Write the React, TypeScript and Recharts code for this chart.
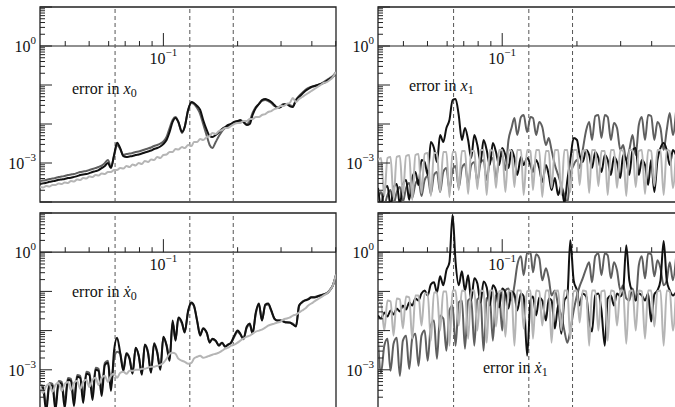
import { useMemo } from "react";
import {
  LineChart,
  Line,
  XAxis,
  YAxis,
  ReferenceLine,
  ReferenceArea,
  ReferenceDot,
} from "recharts";

const SERIF = "'Liberation Serif', 'DejaVu Serif', 'Times New Roman', serif";

// shared frequency grid (log spaced)
const X = [
  0.0316, 0.0325, 0.0335, 0.0345, 0.0355, 0.0365, 0.0376, 0.0387, 0.0398, 0.041,
  0.0422, 0.0434, 0.0447, 0.046, 0.0473, 0.0487, 0.0501, 0.0516, 0.0531, 0.0546,
  0.0562, 0.0579, 0.0596, 0.0613, 0.0631, 0.0649, 0.0668, 0.0688, 0.0708, 0.0729,
  0.075, 0.0772, 0.0794, 0.0818, 0.0841, 0.0866, 0.0891, 0.0917, 0.0944, 0.0972,
  0.1, 0.103, 0.106, 0.109, 0.112, 0.115, 0.119, 0.122, 0.126, 0.13,
  0.133, 0.137, 0.141, 0.145, 0.15, 0.154, 0.158, 0.163, 0.168, 0.173,
  0.178, 0.183, 0.188, 0.194, 0.2, 0.205, 0.211, 0.218, 0.224, 0.23,
  0.237, 0.244, 0.251, 0.259, 0.266, 0.274, 0.282, 0.29, 0.299, 0.307,
  0.316, 0.325, 0.335, 0.345, 0.355, 0.365, 0.376, 0.387, 0.398, 0.41,
  0.422, 0.434, 0.447, 0.46, 0.473, 0.487, 0.501,
];

// error in x0
const TL_BLACK = [
  2.9e-4, 3.0e-4, 3.1e-4, 3.3e-4, 3.4e-4, 3.5e-4, 3.7e-4, 3.8e-4, 3.9e-4, 4.1e-4,
  4.2e-4, 4.4e-4, 4.6e-4, 4.9e-4, 5.1e-4, 5.2e-4, 5.5e-4, 5.9e-4, 6.2e-4, 6.6e-4,
  7.4e-4, 8.4e-4, 1.0e-3, 7.4e-4, 1.6e-3, 3.3e-3, 2.4e-3, 1.5e-3, 1.43e-3, 1.47e-3,
  1.51e-3, 1.6e-3, 1.65e-3, 1.75e-3, 1.86e-3, 1.97e-3, 2.09e-3, 2.29e-3, 2.42e-3, 2.65e-3,
  3.07e-3, 3.89e-3, 6.23e-3, 1.13e-2, 1.43e-2, 1.13e-2, 6.23e-3, 8.37e-3, 2.29e-2, 3.66e-2,
  3.45e-2, 2.89e-2, 2.29e-2, 1.27e-2, 7.0e-3, 4.92e-3, 4.64e-3, 5.22e-3, 6.23e-3, 7.44e-3,
  8.37e-3, 9.42e-3, 1.0e-2, 1.13e-2, 1.19e-2, 1.27e-2, 1.13e-2, 9.4e-3, 1.0e-2, 1.7e-2,
  2.57e-2, 3.26e-2, 4.12e-2, 4.37e-2, 4.12e-2, 3.66e-2, 3.07e-2, 2.57e-2, 2.73e-2, 3.07e-2,
  3.26e-2, 2.89e-2, 2.73e-2, 4.12e-2, 4.92e-2, 5.88e-2, 7.01e-2, 7.89e-2, 8.88e-2, 9.42e-2,
  0.1, 0.106, 0.113, 0.127, 0.143, 0.16, 0.203,
];
const TL_DARK = [
  3.45e-4, 3.55e-4, 3.66e-4, 3.89e-4, 4.0e-4, 4.12e-4, 4.37e-4, 4.5e-4, 4.64e-4, 4.92e-4,
  5.07e-4, 5.22e-4, 5.54e-4, 5.88e-4, 6.05e-4, 6.23e-4, 6.61e-4, 7.01e-4, 7.44e-4, 7.89e-4,
  8.6e-4, 1.0e-3, 1.19e-3, 7.9e-4, 1.51e-3, 2.89e-3, 2.29e-3, 1.6e-3, 1.7e-3, 1.75e-3,
  1.8e-3, 1.92e-3, 1.97e-3, 2.09e-3, 2.22e-3, 2.35e-3, 2.5e-3, 2.73e-3, 2.89e-3, 3.16e-3,
  3.55e-3, 4.64e-3, 7.89e-3, 1.27e-2, 1.51e-2, 1.13e-2, 5.88e-3, 8.37e-3, 2.29e-2, 3.45e-2,
  3.26e-2, 2.57e-2, 1.8e-2, 1.0e-2, 4.92e-3, 2.89e-3, 2.42e-3, 3.45e-3, 4.92e-3, 6.61e-3,
  7.89e-3, 8.88e-3, 1.0e-2, 1.13e-2, 1.19e-2, 1.19e-2, 1.13e-2, 1.0e-2, 1.19e-2, 1.92e-2,
  2.73e-2, 3.26e-2, 3.89e-2, 4.12e-2, 3.89e-2, 3.45e-2, 2.89e-2, 2.73e-2, 2.89e-2, 3.26e-2,
  3.26e-2, 3.07e-2, 2.89e-2, 4.12e-2, 5.22e-2, 6.23e-2, 7.44e-2, 8.37e-2, 8.88e-2, 9.42e-2,
  0.1, 0.106, 0.119, 0.134, 0.151, 0.17, 0.215,
];
const TL_LIGHT = [
  2.42e-4, 2.35e-4, 2.57e-4, 2.5e-4, 2.73e-4, 2.73e-4, 2.98e-4, 2.89e-4, 3.16e-4, 3.07e-4,
  3.45e-4, 3.35e-4, 3.78e-4, 3.66e-4, 4.12e-4, 4.0e-4, 4.5e-4, 4.37e-4, 4.92e-4, 4.78e-4,
  5.38e-4, 5.22e-4, 5.88e-4, 5.88e-4, 6.61e-4, 6.61e-4, 7.44e-4, 7.2e-4, 8.37e-4, 7.89e-4,
  9.15e-4, 8.63e-4, 1.0e-3, 9.42e-4, 1.13e-3, 1.06e-3, 1.23e-3, 1.19e-3, 1.43e-3, 1.34e-3,
  1.6e-3, 1.65e-3, 1.92e-3, 1.92e-3, 2.29e-3, 2.22e-3, 2.57e-3, 2.42e-3, 2.89e-3, 2.73e-3,
  3.45e-3, 3.45e-3, 4.12e-3, 3.89e-3, 4.64e-3, 4.92e-3, 5.88e-3, 5.54e-3, 6.61e-3, 7.01e-3,
  7.89e-3, 7.89e-3, 8.88e-3, 1.0e-2, 1.06e-2, 1.06e-2, 1.19e-2, 1.19e-2, 1.34e-2, 1.34e-2,
  1.51e-2, 1.51e-2, 1.7e-2, 1.8e-2, 2.03e-2, 2.15e-2, 2.42e-2, 2.57e-2, 2.89e-2, 2.89e-2,
  3.26e-2, 3.45e-2, 4.64e-2, 3.66e-2, 4.37e-2, 4.92e-2, 5.54e-2, 6.23e-2, 7.01e-2, 7.89e-2,
  8.88e-2, 0.1, 0.113, 0.119, 0.134, 0.16, 0.215,
];

// error in x1
const TR_BLACK = [
  2.29e-4, 8.4e-5, 2.03e-4, 2.57e-4, 7.9e-5, 2.29e-4, 2.89e-4, 8.8e-5, 2.73e-4, 3.66e-4,
  1.13e-4, 4.12e-4, 5.88e-4, 2.73e-4, 1.19e-3, 1.06e-3, 4.92e-4, 3.45e-3, 2.42e-3, 1.06e-3,
  5.22e-3, 3.45e-3, 7.89e-3, 1.27e-2, 4.12e-2, 4.37e-2, 1.7e-2, 3.89e-3, 7.89e-3, 3.89e-3,
  1.34e-3, 5.22e-3, 2.89e-3, 1.06e-3, 3.89e-3, 2.15e-3, 8.88e-4, 3.26e-3, 1.92e-3, 8.88e-4,
  2.42e-3, 1.6e-3, 7.44e-4, 2.15e-3, 1.34e-3, 4.92e-4, 1.43e-3, 8.88e-4, 1.34e-3, 8.88e-4,
  5.88e-4, 1.19e-3, 7.44e-4, 3.26e-4, 8.88e-4, 4.92e-4, 2.03e-4, 4.12e-4, 1.51e-4, 2.73e-4,
  9.4e-5, 3.66e-4, 1.19e-3, 4.37e-3, 3.89e-3, 1.6e-3, 1.06e-3, 2.15e-3, 1.6e-3, 7.44e-4,
  1.92e-3, 1.34e-3, 5.88e-4, 1.6e-3, 1.19e-3, 4.92e-4, 1.43e-3, 1.06e-3, 4.12e-4, 1.6e-3,
  1.19e-3, 4.92e-4, 2.15e-3, 2.42e-3, 4.92e-4, 1.19e-3, 8.88e-4, 2.73e-4, 1.19e-3, 1.8e-4,
  1.19e-3, 2.42e-3, 3.26e-3, 2.15e-3, 8.88e-4, 2.15e-3, 1.6e-3,
];
const TR_DARK = [
  1.13e-4, 1.8e-4, 8.4e-5, 1.51e-4, 2.03e-4, 8.8e-5, 1.8e-4, 2.42e-4, 1.0e-4, 2.29e-4,
  3.07e-4, 1.27e-4, 2.89e-4, 3.66e-4, 1.43e-4, 3.66e-4, 4.64e-4, 1.6e-4, 4.92e-4, 5.88e-4,
  1.8e-4, 5.88e-4, 7.44e-4, 2.03e-4, 6.61e-4, 8.37e-4, 2.29e-4, 7.44e-4, 9.42e-4, 2.73e-4,
  8.88e-4, 1.06e-3, 3.26e-4, 1.0e-3, 1.19e-3, 3.66e-4, 1.06e-3, 1.34e-3, 4.12e-4, 1.19e-3,
  1.6e-3, 6.61e-4, 3.89e-3, 7.89e-3, 1.43e-2, 5.22e-3, 1.51e-2, 1.7e-2, 6.23e-3, 1.51e-2,
  1.43e-2, 5.22e-3, 1.13e-2, 8.37e-3, 2.89e-3, 4.37e-3, 2.15e-3, 8.88e-4, 4.92e-4, 2.73e-4,
  1.51e-4, 9.4e-5, 4.92e-4, 8.88e-4, 1.19e-3, 7.44e-4, 2.15e-3, 7.01e-3, 1.13e-2, 3.89e-3,
  1.6e-2, 1.7e-2, 4.37e-3, 1.7e-2, 1.51e-2, 3.89e-3, 1.06e-2, 7.89e-3, 2.15e-3, 2.89e-3,
  1.19e-3, 2.15e-3, 5.22e-3, 1.6e-3, 9.42e-3, 1.51e-2, 3.89e-3, 1.7e-2, 1.6e-2, 3.89e-3,
  1.13e-2, 7.89e-3, 2.15e-3, 7.01e-3, 1.92e-2, 5.22e-3, 2.03e-2,
];
const TR_LIGHT = [
  1.19e-3, 1.34e-3, 1.43e-4, 1.34e-3, 1.43e-3, 1.27e-4, 1.43e-3, 1.51e-3, 1.51e-4, 1.51e-3,
  1.6e-3, 1.13e-4, 1.6e-3, 1.7e-3, 1.7e-4, 1.7e-3, 1.8e-3, 1.43e-4, 1.8e-3, 1.8e-3,
  1.8e-4, 1.92e-3, 1.92e-3, 1.34e-4, 1.92e-3, 1.92e-3, 2.03e-4, 2.03e-3, 2.03e-3, 1.6e-4,
  2.03e-3, 2.03e-3, 2.15e-4, 2.15e-3, 2.15e-3, 1.51e-4, 2.15e-3, 2.03e-3, 2.29e-4, 2.15e-3,
  2.15e-3, 1.8e-4, 2.15e-3, 2.03e-3, 2.42e-4, 2.15e-3, 2.15e-3, 1.51e-4, 2.15e-3, 2.03e-3,
  2.03e-4, 2.15e-3, 2.15e-3, 1.34e-4, 2.03e-3, 2.03e-3, 2.29e-4, 2.15e-3, 2.15e-3, 1.51e-4,
  2.15e-3, 2.15e-3, 1.8e-4, 2.15e-3, 2.15e-3, 2.73e-4, 2.03e-3, 2.15e-3, 1.7e-4, 2.15e-3,
  2.15e-3, 2.57e-4, 2.03e-3, 2.03e-3, 1.51e-4, 2.15e-3, 2.15e-3, 2.29e-4, 2.15e-3, 2.03e-3,
  1.43e-4, 2.15e-3, 2.15e-3, 2.42e-4, 2.03e-3, 2.15e-3, 1.6e-4, 2.15e-3, 2.03e-3, 2.57e-4,
  2.15e-3, 2.15e-3, 1.51e-4, 2.15e-3, 2.03e-3, 2.29e-4, 1.92e-3,
];

// error in x0 dot
const BL_BLACK = [
  3.66e-4, 3.45e-4, 8.8e-5, 4.12e-4, 3.89e-4, 9.4e-5, 4.64e-4, 4.37e-4, 1.06e-4, 5.54e-4,
  5.22e-4, 1.19e-4, 6.61e-4, 6.23e-4, 1.43e-4, 7.89e-4, 7.44e-4, 1.7e-4, 1.0e-3, 9.42e-4,
  2.15e-4, 1.34e-3, 1.51e-3, 2.89e-4, 3.07e-3, 6.61e-3, 2.73e-3, 9.42e-4, 2.57e-3, 1.92e-3,
  7.89e-4, 3.66e-3, 2.29e-3, 7.44e-4, 4.37e-3, 2.73e-3, 8.37e-4, 4.64e-3, 2.73e-3, 1.0e-3,
  7.01e-3, 4.12e-3, 1.7e-3, 1.8e-2, 5.54e-3, 2.15e-2, 1.6e-2, 8.88e-3, 3.26e-2, 5.22e-2,
  4.37e-2, 1.8e-2, 7.44e-3, 1.13e-2, 8.88e-3, 4.92e-3, 6.23e-3, 5.54e-3, 4.12e-3, 4.92e-3,
  3.89e-3, 4.37e-3, 4.92e-3, 7.44e-3, 1.0e-2, 8.37e-3, 6.23e-3, 1.27e-2, 1.51e-2, 8.37e-3,
  2.89e-2, 4.92e-2, 1.8e-2, 4.64e-2, 4.92e-2, 3.26e-2, 2.03e-2, 1.8e-2, 1.8e-2, 1.7e-2,
  1.6e-2, 1.6e-2, 1.43e-2, 1.27e-2, 4.37e-2, 5.22e-2, 5.88e-2, 6.23e-2, 7.01e-2, 7.01e-2,
  7.44e-2, 7.89e-2, 8.37e-2, 8.88e-2, 0.106, 0.143, 0.257,
];
const BL_DARK = [
  4.1e-4, 3.9e-4, 1.2e-4, 4.6e-4, 4.4e-4, 1.3e-4, 5.2e-4, 4.9e-4, 1.5e-4, 6.2e-4,
  5.9e-4, 1.7e-4, 7.4e-4, 7.0e-4, 2.0e-4, 8.9e-4, 8.4e-4, 2.4e-4, 1.13e-3, 1.06e-3,
  3.0e-4, 1.5e-3, 1.7e-3, 4.0e-4, 1.9e-3, 2.9e-3, 2.6e-3, 1.0e-3, 2.7e-3, 2.0e-3,
  8.5e-4, 3.6e-3, 2.4e-3, 8.0e-4, 4.4e-3, 2.9e-3, 9.0e-4, 4.8e-3, 2.9e-3, 1.1e-3,
  6.8e-3, 4.4e-3, 1.9e-3, 1.6e-2, 6.0e-3, 2.0e-2, 1.5e-2, 9.5e-3, 3.0e-2, 4.9e-2,
  4.2e-2, 1.8e-2, 8.0e-3, 1.15e-2, 8.5e-3, 5.2e-3, 6.0e-3, 5.4e-3, 4.3e-3, 4.9e-3,
  4.0e-3, 4.4e-3, 4.8e-3, 7.0e-3, 9.4e-3, 8.0e-3, 6.0e-3, 1.2e-2, 1.4e-2, 8.5e-3,
  2.7e-2, 4.6e-2, 1.9e-2, 4.4e-2, 4.6e-2, 3.1e-2, 2.0e-2, 1.8e-2, 1.8e-2, 1.7e-2,
  1.65e-2, 1.6e-2, 1.5e-2, 1.3e-2, 4.2e-2, 5.4e-2, 6.0e-2, 6.4e-2, 7.2e-2, 7.2e-2,
  7.6e-2, 8.0e-2, 8.5e-2, 9.0e-2, 0.108, 0.145, 0.26,
];
const BL_LIGHT = [
  4.12e-4, 2.57e-4, 3.89e-4, 4.37e-4, 2.73e-4, 4.12e-4, 4.64e-4, 2.89e-4, 4.37e-4, 4.92e-4,
  3.07e-4, 4.64e-4, 5.22e-4, 3.26e-4, 4.92e-4, 5.54e-4, 3.66e-4, 5.54e-4, 6.23e-4, 4.12e-4,
  6.23e-4, 7.01e-4, 4.92e-4, 7.01e-4, 7.89e-4, 6.23e-4, 8.37e-4, 8.88e-4, 7.89e-4, 9.42e-4,
  9.42e-4, 1.0e-3, 1.0e-3, 1.06e-3, 1.06e-3, 1.13e-3, 1.19e-3, 1.19e-3, 1.27e-3, 1.34e-3,
  1.51e-3, 1.92e-3, 2.57e-3, 2.73e-3, 2.57e-3, 1.92e-3, 1.7e-3, 1.6e-3, 1.43e-3, 1.51e-3,
  1.92e-3, 2.15e-3, 2.29e-3, 2.03e-3, 2.15e-3, 2.29e-3, 2.42e-3, 2.57e-3, 2.73e-3, 3.07e-3,
  3.45e-3, 3.66e-3, 4.12e-3, 4.37e-3, 4.92e-3, 5.54e-3, 6.23e-3, 7.01e-3, 7.44e-3, 8.37e-3,
  9.42e-3, 1.0e-2, 1.06e-2, 1.19e-2, 1.34e-2, 1.43e-2, 1.51e-2, 1.6e-2, 1.7e-2, 1.92e-2,
  2.03e-2, 2.15e-2, 2.42e-2, 2.57e-2, 2.89e-2, 3.26e-2, 3.66e-2, 4.37e-2, 4.92e-2, 5.54e-2,
  6.23e-2, 7.01e-2, 7.89e-2, 8.88e-2, 0.106, 0.143, 0.27,
];

// error in x1 dot
const BR_BLACK = [
  2.42e-2, 2.03e-2, 2.89e-2, 2.29e-2, 3.26e-2, 2.57e-2, 3.66e-2, 3.07e-2, 4.37e-2, 3.45e-2,
  5.22e-2, 4.37e-2, 6.61e-2, 5.88e-2, 8.88e-2, 0.106, 7.89e-2, 0.151, 0.17, 9.42e-2,
  0.242, 0.143, 0.345, 0.554, 9, 0.554, 0.143, 0.326, 0.106, 0.257,
  5.88e-2, 0.215, 0.16, 5.22e-2, 0.18, 0.127, 4.37e-2, 0.143, 0.106, 3.89e-2,
  0.119, 9.42e-2, 3.66e-2, 0.1, 8.37e-2, 3.26e-2, 8.88e-2, 7.44e-2, 2.29e-3, 5.88e-2,
  7.44e-2, 2.42e-2, 7.01e-2, 5.88e-2, 1.8e-2, 6.61e-2, 5.88e-2, 1.13e-2, 4.37e-2, 8.37e-3,
  5.88e-2, 7.89e-2, 2.03, 0.192, 0.106, 4.37e-2, 8.88e-2, 7.44e-2, 1.8e-2, 9.42e-3,
  7.89e-2, 8.88e-2, 3.26e-2, 4.12e-3, 6.61e-2, 7.89e-2, 4.37e-2, 8.88e-2, 7.44e-2, 0.106,
  1.51, 0.192, 9.42e-2, 5.88e-2, 8.88e-2, 7.89e-2, 5.88e-2, 8.88e-2, 1.7e-2, 8.37e-2,
  0.106, 0.192, 1.92, 0.192, 0.106, 7.89e-2, 9.42e-2,
];
const BR_DARK = [
  5.54e-3, 8.37e-4, 4.12e-3, 6.23e-3, 9.42e-4, 4.64e-3, 6.61e-3, 7.01e-4, 5.54e-3, 7.44e-3,
  1.06e-3, 6.23e-3, 8.37e-3, 1.27e-3, 7.44e-3, 1.0e-2, 1.7e-3, 1.34e-2, 1.8e-2, 1.92e-3,
  2.42e-2, 2.03e-2, 3.07e-3, 3.26e-2, 4.37e-2, 4.12e-3, 5.22e-2, 5.88e-2, 3.45e-3, 5.88e-2,
  6.61e-2, 4.12e-3, 6.23e-2, 7.01e-2, 3.07e-3, 6.61e-2, 7.44e-2, 5.54e-3, 7.89e-2, 8.88e-2,
  1.0e-2, 0.106, 0.119, 5.88e-2, 0.143, 0.464, 0.789, 0.257, 0.942, 1.0,
  0.307, 0.888, 0.701, 0.192, 0.389, 0.215, 7.89e-2, 0.106, 4.37e-2, 2.42e-2,
  1.0e-2, 4.92e-3, 1.0e-2, 3.26e-2, 7.89e-2, 0.134, 0.215, 0.389, 0.554, 0.17,
  0.789, 0.942, 0.257, 0.942, 0.837, 0.215, 0.554, 0.345, 0.106, 0.143,
  6.61e-2, 5.88e-2, 0.119, 5.88e-2, 0.464, 0.789, 0.215, 0.942, 0.888, 0.242,
  0.623, 0.389, 0.143, 0.192, 0.554, 0.192, 0.701,
];
const BR_LIGHT = [
  5.22e-2, 4.92e-2, 1.0e-2, 5.88e-2, 5.54e-2, 7.44e-3, 6.61e-2, 6.23e-2, 1.13e-2, 7.44e-2,
  7.01e-2, 6.23e-3, 7.89e-2, 7.89e-2, 1.34e-2, 8.88e-2, 8.88e-2, 5.54e-3, 9.42e-2, 9.42e-2,
  1.0e-2, 0.1, 0.1, 4.12e-3, 0.106, 0.106, 1.34e-2, 0.106, 0.1, 6.23e-3,
  0.106, 0.106, 1.0e-2, 0.106, 0.1, 4.92e-3, 0.106, 0.106, 1.27e-2, 0.1,
  0.106, 7.01e-3, 0.106, 0.1, 4.12e-3, 0.106, 0.106, 1.13e-2, 0.1, 0.106,
  6.23e-3, 0.106, 0.1, 1.34e-2, 0.106, 0.106, 4.92e-3, 0.1, 0.106, 1.0e-2,
  0.106, 0.106, 6.23e-3, 0.1, 0.106, 1.6e-2, 0.106, 0.1, 4.12e-3, 0.106,
  0.106, 1.0e-2, 0.1, 0.106, 5.54e-3, 0.106, 0.1, 1.34e-2, 0.106, 0.106,
  4.64e-3, 0.1, 0.106, 1.0e-2, 0.106, 0.1, 6.23e-3, 0.106, 0.106, 1.27e-2,
  0.1, 0.106, 4.12e-3, 0.106, 0.1, 1.0e-2, 9.42e-2,
];

const X_MIN = 0.0316;
const X_MAX = 0.5012;
const Y_MIN = 1e-4;
const Y_MAX = 10;

const DECADES = [1e-4, 1e-3, 1e-2, 1e-1, 1];
const MANTISSAS = [1, 2, 3, 4, 5, 6, 7, 8, 9];
const Y_TICKS = [...DECADES.flatMap((d) => MANTISSAS.map((m) => m * d)), 10];
const Y_LABELS = [
  { value: 1, exp: "0" },
  { value: 1e-3, exp: "\u22123" },
];

const X_MINOR_TICKS = [0.04, 0.05, 0.06, 0.07, 0.08, 0.09, 0.2, 0.3, 0.4, 0.5];
const X_MAJOR_TICKS = [0.1];
const X_LABEL_EXP = "\u22121";

// resonance markers
const RESONANCES = [0.0637, 0.128, 0.192];

const C_BLACK = "#111111";
const C_DARK = "#5f5f5f";
const C_LIGHT = "#b5b5b5";
const FRAME = "#222222";

function LogTick(props: any) {
  const { x, y, payload } = props;
  const v = payload.value;
  const lg = Math.log10(v);
  const decade = Math.abs(lg - Math.round(lg)) < 1e-6;
  const label = Y_LABELS.find((l) => Math.abs(l.value - v) < l.value * 1e-6);
  return (
    <g>
      <line x1={x} x2={x + (decade ? 12 : 5)} y1={y} y2={y} stroke={FRAME} strokeWidth={1} />
      {label && (
        <text x={x - 4} y={y + 6} textAnchor="end" fontSize={16} fontFamily={SERIF} fill="#111">
          10
          <tspan dy={-8} fontSize={11}>
            {label.exp}
          </tspan>
        </text>
      )}
    </g>
  );
}

function XTickLabel(props: any) {
  const { viewBox } = props;
  const x = viewBox.x + (viewBox.width || 0) / 2;
  const y = viewBox.y + (viewBox.height || 0) / 2;
  return (
    <text x={x} y={y + 18} textAnchor="middle" fontSize={16} fontFamily={SERIF} fill="#111">
      10
      <tspan dy={-8} fontSize={11}>
        {X_LABEL_EXP}
      </tspan>
    </text>
  );
}

interface PanelProps {
  left: number;
  top: number;
  height: number;
  plotWidth: number;
  black: number[];
  dark: number[];
  light: number[];
}

function ErrorPanel({ left, top, height, plotWidth, black, dark, light }: PanelProps) {
  const data = useMemo(
    () => X.map((x, i) => ({ x, black: black[i], dark: dark[i], light: light[i] })),
    [black, dark, light]
  );
  const width = 40 + plotWidth + 4;

  return (
    <div style={{ position: "absolute", left, top }}>
      <LineChart
        width={width}
        height={height}
        data={data}
        margin={{ top: 7, right: 4, bottom: 3, left: 0 }}
      >
        <XAxis
          dataKey="x"
          type="number"
          scale="log"
          domain={[X_MIN, X_MAX]}
          allowDataOverflow
          hide
          height={0}
        />
        <YAxis
          type="number"
          scale="log"
          domain={[Y_MIN, Y_MAX]}
          allowDataOverflow
          ticks={Y_TICKS}
          interval={0}
          tick={<LogTick />}
          tickLine={false}
          axisLine={false}
          tickSize={0}
          tickMargin={0}
          width={40}
        />
        <ReferenceArea
          x1={X_MIN}
          x2={X_MAX}
          y1={Y_MIN}
          y2={Y_MAX}
          fill="none"
          stroke={FRAME}
          strokeWidth={1.3}
        />
        <ReferenceLine y={1} stroke={FRAME} strokeWidth={1.2} />
        {X_MINOR_TICKS.map((v) => (
          <ReferenceLine
            key={`mn${v}`}
            segment={[
              { x: v, y: 1 },
              { x: v, y: 1.34 },
            ]}
            stroke={FRAME}
            strokeWidth={1}
          />
        ))}
        {X_MAJOR_TICKS.map((v) => (
          <ReferenceLine
            key={`mj${v}`}
            segment={[
              { x: v, y: 1 },
              { x: v, y: 2.15 },
            ]}
            stroke={FRAME}
            strokeWidth={1}
          />
        ))}
        {X_MAJOR_TICKS.map((v) => (
          <ReferenceDot
            key={`lb${v}`}
            x={v}
            y={1}
            r={0}
            fill="none"
            stroke="none"
            label={<XTickLabel />}
          />
        ))}
        {RESONANCES.map((v) => (
          <ReferenceLine
            key={`rs${v}`}
            x={v}
            stroke="#555"
            strokeWidth={1}
            strokeDasharray="4 3"
          />
        ))}
        <Line
          type="monotone"
          dataKey="dark"
          stroke={C_DARK}
          strokeWidth={2}
          dot={false}
          isAnimationActive={false}
        />
        <Line
          type="monotone"
          dataKey="black"
          stroke={C_BLACK}
          strokeWidth={2}
          dot={false}
          isAnimationActive={false}
        />
        <Line
          type="monotone"
          dataKey="light"
          stroke={C_LIGHT}
          strokeWidth={2}
          dot={false}
          isAnimationActive={false}
        />
      </LineChart>
    </div>
  );
}

function Title({ x, y, dotted, sub }: { x: number; y: number; dotted: boolean; sub: string }) {
  return (
    <text x={x} y={y} fontSize={16} fontFamily={SERIF} fill="#111">
      error in{" "}
      <tspan fontStyle="italic">{dotted ? "\u1E8B" : "x"}</tspan>
      <tspan dy={3} fontSize={12}>
        {sub}
      </tspan>
    </text>
  );
}

export default function App() {
  return (
    <div
      style={{
        position: "absolute",
        left: 0,
        top: 0,
        width: 675,
        height: 407,
        overflow: "hidden",
        background: "#fff",
      }}
    >
      <ErrorPanel left={0} top={0} height={205} plotWidth={296} black={TL_BLACK} dark={TL_DARK} light={TL_LIGHT} />
      <ErrorPanel left={338} top={0} height={205} plotWidth={298} black={TR_BLACK} dark={TR_DARK} light={TR_LIGHT} />
      <ErrorPanel left={0} top={206} height={206} plotWidth={296} black={BL_BLACK} dark={BL_DARK} light={BL_LIGHT} />
      <ErrorPanel left={338} top={206} height={206} plotWidth={298} black={BR_BLACK} dark={BR_DARK} light={BR_LIGHT} />
      <svg
        width={675}
        height={407}
        style={{ position: "absolute", left: 0, top: 0, pointerEvents: "none" }}
      >
        <Title x={72} y={94} dotted={false} sub="0" />
        <Title x={409} y={91} dotted={false} sub="1" />
        <Title x={72} y={297} dotted={true} sub="0" />
        <Title x={483} y={373} dotted={true} sub="1" />
      </svg>
    </div>
  );
}
